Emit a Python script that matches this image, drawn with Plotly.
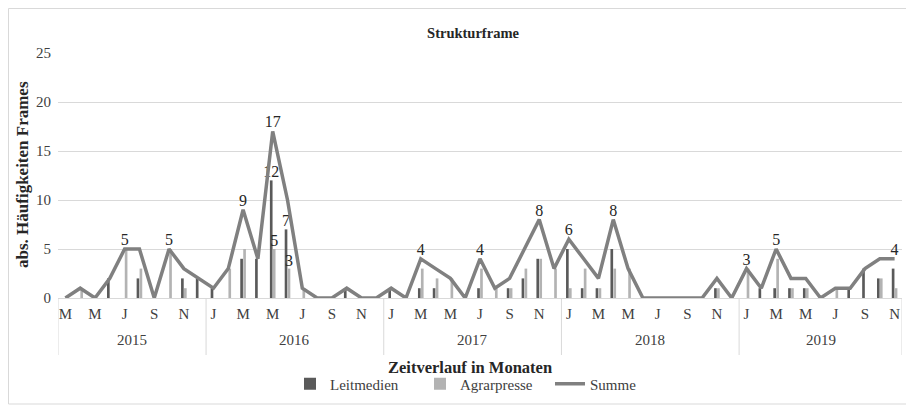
import plotly.graph_objects as go

# ---- data -------------------------------------------------------------
years = [2015, 2016, 2017, 2018, 2019]
months_2015 = ["03", "04", "05", "06", "07", "08", "09", "10", "11", "12"]
months_full = ["01", "02", "03", "04", "05", "06", "07", "08", "09", "10", "11", "12"]
months_2019 = ["01", "02", "03", "04", "05", "06", "07", "08", "09", "10", "11"]
month_initial = {"01": "J", "02": "F", "03": "M", "04": "A", "05": "M", "06": "J",
                 "07": "J", "08": "A", "09": "S", "10": "O", "11": "N", "12": "D"}

leitmedien = [
    0, 0, 0, 2, 0, 2, 0, 0, 2, 2,            # 2015 (Mar-Dec)
    1, 0, 4, 4, 12, 7, 0, 0, 0, 1, 0, 0,     # 2016
    1, 0, 1, 1, 0, 0, 1, 0, 1, 2, 4, 0,      # 2017
    5, 1, 1, 5, 0, 0, 0, 0, 0, 0, 1, 0,      # 2018
    0, 1, 1, 1, 1, 0, 0, 1, 3, 2, 3,         # 2019 (Jan-Nov)
]
agrarpresse = [
    0, 1, 0, 0, 5, 3, 0, 5, 1, 0,
    0, 3, 5, 0, 5, 3, 1, 0, 0, 0, 0, 0,
    0, 0, 3, 2, 2, 0, 3, 1, 1, 3, 4, 3,
    1, 3, 1, 3, 3, 0, 0, 0, 0, 0, 1, 0,
    3, 0, 4, 1, 1, 0, 1, 0, 0, 2, 1,
]
summe = [
    0, 1, 0, 2, 5, 5, 0, 5, 3, 2,
    1, 3, 9, 4, 17, 10, 1, 0, 0, 1, 0, 0,
    1, 0, 4, 3, 2, 0, 4, 1, 2, 5, 8, 3,
    6, 4, 2, 8, 3, 0, 0, 0, 0, 0, 2, 0,
    3, 1, 5, 2, 2, 0, 1, 1, 3, 4, 4,
]
summe_labelled = ["2015-07", "2015-10", "2016-03", "2016-05", "2017-03", "2017-07",
                  "2017-11", "2018-01", "2018-04", "2019-01", "2019-03", "2019-11"]
leit_labelled = ["2016-05", "2016-06"]
agrar_labelled = ["2016-05", "2016-06"]

# ---- categories ---------------------------------------------------------
month_lists = {2015: months_2015, 2016: months_full, 2017: months_full,
               2018: months_full, 2019: months_2019}
categories = [f"{y}-{m}" for y in years for m in month_lists[y]]
tick_vals = [c for c in categories if int(c[5:]) % 2 == 1]
tick_text = [month_initial[c[5:]] for c in tick_vals]

summe_text = [str(v) if c in summe_labelled else "" for c, v in zip(categories, summe)]
leit_text = [str(v) if c in leit_labelled else "" for c, v in zip(categories, leitmedien)]
agrar_text = [str(v) if c in agrar_labelled else "" for c, v in zip(categories, agrarpresse)]

FONT = "Liberation Serif"
TXT = "#404040"
DARK = "#262626"

# figure geometry (page body adds an 8px offset)
W, H = 906, 399
L, R, T, B = 50, 12, 45, 109
PW, PH = W - L - R, H - T - B


def px_x(p):
    return (p - L) / PW


def px_y(p):
    return (H - B - p) / PH


fig = go.Figure()
fig.add_trace(go.Bar(x=categories, y=leitmedien, name="Leitmedien",
                     marker=dict(color="#5a5a5a", line=dict(width=0)),
                     text=leit_text, textposition="outside", cliponaxis=False,
                     constraintext="none",
                     textfont=dict(family=FONT, size=16, color=DARK)))
fig.add_trace(go.Bar(x=categories, y=agrarpresse, name="Agrarpresse",
                     marker=dict(color="#b3b3b3", line=dict(width=0)),
                     text=agrar_text, textposition="outside", cliponaxis=False,
                     constraintext="none",
                     textfont=dict(family=FONT, size=16, color=DARK)))
fig.add_trace(go.Scatter(x=categories, y=summe, name="Summe", mode="lines+text",
                         line=dict(color="#808080", width=3.5),
                         text=summe_text, textposition="top center", cliponaxis=False,
                         textfont=dict(family=FONT, size=16, color=DARK)))

# year dividers and labels
n = len(categories)
bounds = [-0.5]
pos = -0.5
for y in years:
    pos += len(month_lists[y])
    bounds.append(pos)
shapes = []
for b in bounds:
    shapes.append(dict(type="line", xref="x", yref="paper", x0=b, x1=b, y0=0, y1=px_y(347),
                       line=dict(color="#d9d9d9", width=1)))
# outer chart border
shapes.append(dict(type="rect", xref="paper", yref="paper",
                   x0=px_x(0.5), x1=px_x(903), y0=px_y(396), y1=px_y(0.5),
                   line=dict(color="#d9d9d9", width=1)))

annotations = []
for i, y in enumerate(years):
    annotations.append(dict(x=(bounds[i] + bounds[i + 1]) / 2, y=px_y(332), xref="x", yref="paper",
                            text=str(y), showarrow=False, yanchor="middle",
                            font=dict(family=FONT, size=15, color=TXT)))
annotations.append(dict(x=px_x(462), y=px_y(360), xref="paper", yref="paper",
                        text="<b>Zeitverlauf in Monaten</b>", showarrow=False, yanchor="middle",
                        font=dict(family=FONT, size=16.5, color=DARK)))
annotations.append(dict(x=px_x(14), y=px_y(167), xref="paper", yref="paper",
                        text="<b>abs. Häufigkeiten Frames</b>", showarrow=False, textangle=-90,
                        xanchor="center", yanchor="middle",
                        font=dict(family=FONT, size=17, color=DARK)))

fig.update_layout(
    width=W, height=H,
    margin=dict(l=L, r=R, t=T, b=B, autoexpand=False),
    paper_bgcolor="white", plot_bgcolor="white",
    title=dict(text="<b>Strukturframe</b>", x=465 / W, xanchor="center",
               y=1 - 25 / H, yanchor="middle",
               font=dict(family=FONT, size=14.5, color=DARK)),
    barmode="group", bargap=0.6, bargroupgap=0.1,
    showlegend=True,
    legend=dict(orientation="h", x=px_x(282), xanchor="left",
                y=px_y(376), yanchor="middle",
                font=dict(family=FONT, size=15, color=TXT),
                entrywidth=85, entrywidthmode="pixels",
                itemwidth=30, tracegroupgap=0, bgcolor="rgba(0,0,0,0)"),
    shapes=shapes, annotations=annotations,
)
fig.update_xaxes(type="category", categoryorder="array", categoryarray=categories,
                 range=[-0.5, n - 0.5], tickvals=tick_vals, ticktext=tick_text,
                 showgrid=False, showline=True, linecolor="#d9d9d9", linewidth=1,
                 ticks="", ticklabelstandoff=2,
                 tickfont=dict(family=FONT, size=15, color=TXT))
fig.update_yaxes(range=[0, 25], tickvals=[0, 5, 10, 15, 20, 25],
                 showgrid=True, gridcolor="#d9d9d9", gridwidth=1,
                 zeroline=False, showline=False, ticks="", ticklabelstandoff=6,
                 tickfont=dict(family=FONT, size=15, color=TXT))

fig.write_html("out.html")
